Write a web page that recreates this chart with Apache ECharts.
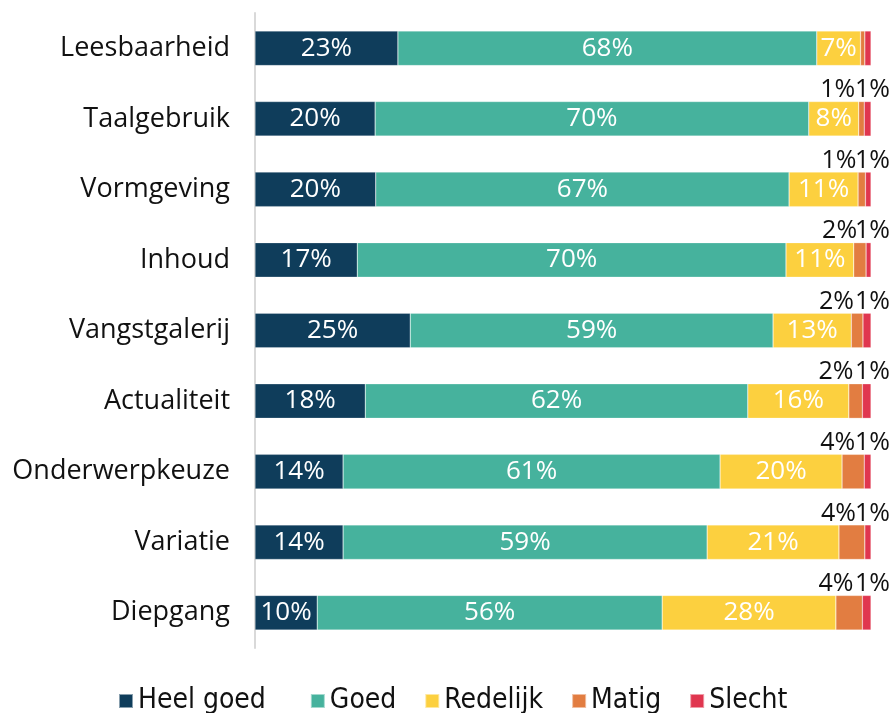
<!DOCTYPE html>
<html>
<head>
<meta charset="utf-8">
<script src="https://cdn.jsdelivr.net/npm/echarts@6/dist/echarts.min.js"></script>
<style>
  html, body { margin: 0; padding: 0; background: #fff; }
  #chart { width: 895px; height: 713px; }
</style>
</head>
<body>
<div id="chart"></div>
<script>
const categories = ['Leesbaarheid', 'Taalgebruik', 'Vormgeving', 'Inhoud', 'Vangstgalerij', 'Actualiteit', 'Onderwerpkeuze', 'Variatie', 'Diepgang'];
const seriesNames = ['Heel goed', 'Goed', 'Redelijk', 'Matig', 'Slecht'];
const heelGoed = [23.2, 19.5, 19.6, 16.6, 25.2, 17.9, 14.3, 14.3, 10.1];
const goed     = [68.0, 70.4, 67.1, 69.6, 58.9, 62.1, 61.2, 59.1, 56.0];
const redelijk = [7.1, 8.1, 11.2, 11.0, 12.7, 16.4, 19.8, 21.4, 28.2];
const matig    = [0.7, 0.9, 1.2, 2.0, 1.9, 2.2, 3.6, 4.2, 4.3];
const slecht   = [1.0, 1.1, 0.9, 0.8, 1.3, 1.4, 1.1, 1.0, 1.4];
const colors = ['#0f3d5b', '#46b29d', '#fcd03f', '#e27d41', '#e0364f'];

const font = '"Open Sans", sans-serif';
const pct = p => Math.round(p.value) + '%';

function inside(name, values, color) {
  return {
    name: name, type: 'bar', stack: 'total', barWidth: '49%',
    itemStyle: { color: color, borderColor: 'rgba(255,255,255,0.5)', borderWidth: 0.5 },
    label: { show: true, position: 'inside', color: '#fff', fontSize: 26, fontFamily: font, formatter: pct },
    data: values
  };
}

function above(name, values, color, offsetX) {
  return {
    name: name, type: 'bar', stack: 'total', barWidth: '49%',
    itemStyle: { color: color, borderColor: 'rgba(255,255,255,0.5)', borderWidth: 0.5 },
    label: {
      show: true, position: ['100%', 0], align: 'right', verticalAlign: 'bottom',
      offset: [offsetX, 1], color: '#111', fontSize: 25, fontFamily: font, formatter: pct
    },
    data: values.map((v, i) => i === 0 ? { value: v, label: { show: false } } : v)
  };
}

const chart = echarts.init(document.getElementById('chart'));
chart.setOption({
  animation: false,
  textStyle: { fontFamily: font },
  grid: { left: 255, top: 13, width: 616, height: 635 },
  xAxis: { type: 'value', min: 0, max: 100, show: false },
  yAxis: {
    type: 'category', data: categories, inverse: true,
    axisLine: { show: true, lineStyle: { color: '#d9d9d9', width: 2 } },
    axisTick: { show: false },
    axisLabel: { color: '#111', fontSize: 27, fontFamily: font, margin: 25 }
  },
  legend: {
    data: seriesNames, left: 113, top: 682, itemWidth: 14, itemHeight: 14, itemGap: 28,
    icon: 'rect',
    formatter: n => n === 'Heel goed' ? n + '  ' : n,
    textStyle: { fontSize: 28, color: '#111', fontFamily: '"DejaVu Sans Condensed", "Open Sans", sans-serif' }
  },
  series: [
    inside('Heel goed', heelGoed, colors[0]),
    inside('Goed', goed, colors[1]),
    inside('Redelijk', redelijk, colors[2]),
    above('Matig', matig, colors[3], -9),
    above('Slecht', slecht, colors[4], 19)
  ]
});
</script>
</body>
</html>
